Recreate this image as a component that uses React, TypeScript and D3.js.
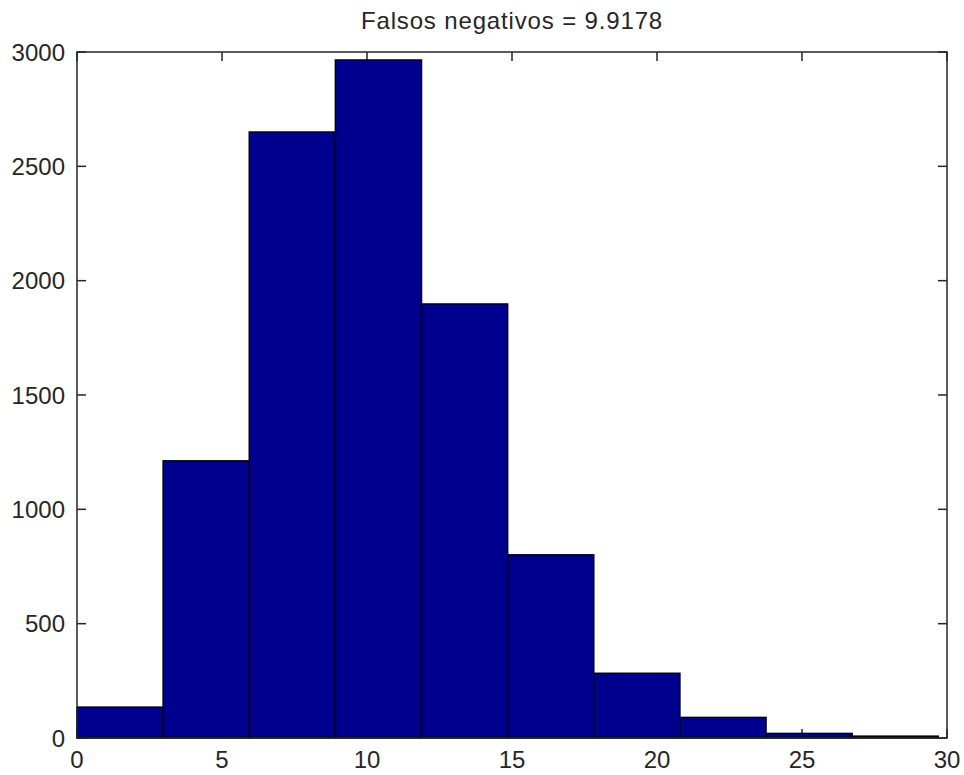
import React from "react";
import * as d3 from "d3";

const binEdges = [0, 2.97, 5.94, 8.91, 11.88, 14.85, 17.82, 20.79, 23.76, 26.73, 29.7];
const counts = [135, 1212, 2650, 2965, 1898, 801, 283, 90, 20, 8];
const xTicks = [0, 5, 10, 15, 20, 25, 30];
const yTicks = [0, 500, 1000, 1500, 2000, 2500, 3000];
const title = "Falsos negativos = 9.9178";

const W = 964;
const H = 775;
const M = { left: 77, right: 947, top: 52, bottom: 738 };

export default function App() {
  const x = d3.scaleLinear().domain([0, 30]).range([M.left, M.right]);
  const y = d3.scaleLinear().domain([0, 3000]).range([M.bottom, M.top]);
  const font = "'Liberation Sans', Arial, Helvetica, sans-serif";
  const axisColor = "#262626";
  const tickLen = 9;
  return (
    <svg
      width={W}
      height={H}
      style={{ position: "absolute", left: 0, top: 0, background: "#fff" }}
      fontFamily={font}
    >
      <rect x={0} y={0} width={W} height={H} fill="#fff" />
      {/* ticks (under bars) */}
      {xTicks.map((t) => (
        <g key={"xt" + t}>
          <line x1={x(t)} x2={x(t)} y1={M.bottom} y2={M.bottom - tickLen} stroke={axisColor} strokeWidth={1.5} />
          <line x1={x(t)} x2={x(t)} y1={M.top} y2={M.top + tickLen} stroke={axisColor} strokeWidth={1.5} />
        </g>
      ))}
      {yTicks.map((t) => (
        <g key={"yt" + t}>
          <line x1={M.left} x2={M.left + tickLen} y1={y(t)} y2={y(t)} stroke={axisColor} strokeWidth={1.5} />
          <line x1={M.right} x2={M.right - tickLen} y1={y(t)} y2={y(t)} stroke={axisColor} strokeWidth={1.5} />
        </g>
      ))}
      {/* bars */}
      {counts.map((c, i) => (
        <rect
          key={"b" + i}
          x={x(binEdges[i])}
          y={y(c)}
          width={x(binEdges[i + 1]) - x(binEdges[i])}
          height={y(0) - y(c)}
          fill="#00008F"
          stroke="#000"
          strokeWidth={1.5}
        />
      ))}
      {/* axes box */}
      <rect
        x={M.left}
        y={M.top}
        width={M.right - M.left}
        height={M.bottom - M.top}
        fill="none"
        stroke={axisColor}
        strokeWidth={1.5}
      />
      {/* tick labels */}
      {xTicks.map((t) => (
        <text key={"xl" + t} x={x(t)} y={768} textAnchor="middle" fontSize={24} fill="#262626">
          {t}
        </text>
      ))}
      {yTicks.map((t) => (
        <text key={"yl" + t} x={65} y={y(t) + 8.6} textAnchor="end" fontSize={24} fill="#262626">
          {t}
        </text>
      ))}
      <text
        x={(M.left + M.right) / 2}
        y={29}
        textAnchor="middle"
        fontSize={24}
        letterSpacing={0.85}
        fill="#262626"
      >
        {title}
      </text>
    </svg>
  );
}
